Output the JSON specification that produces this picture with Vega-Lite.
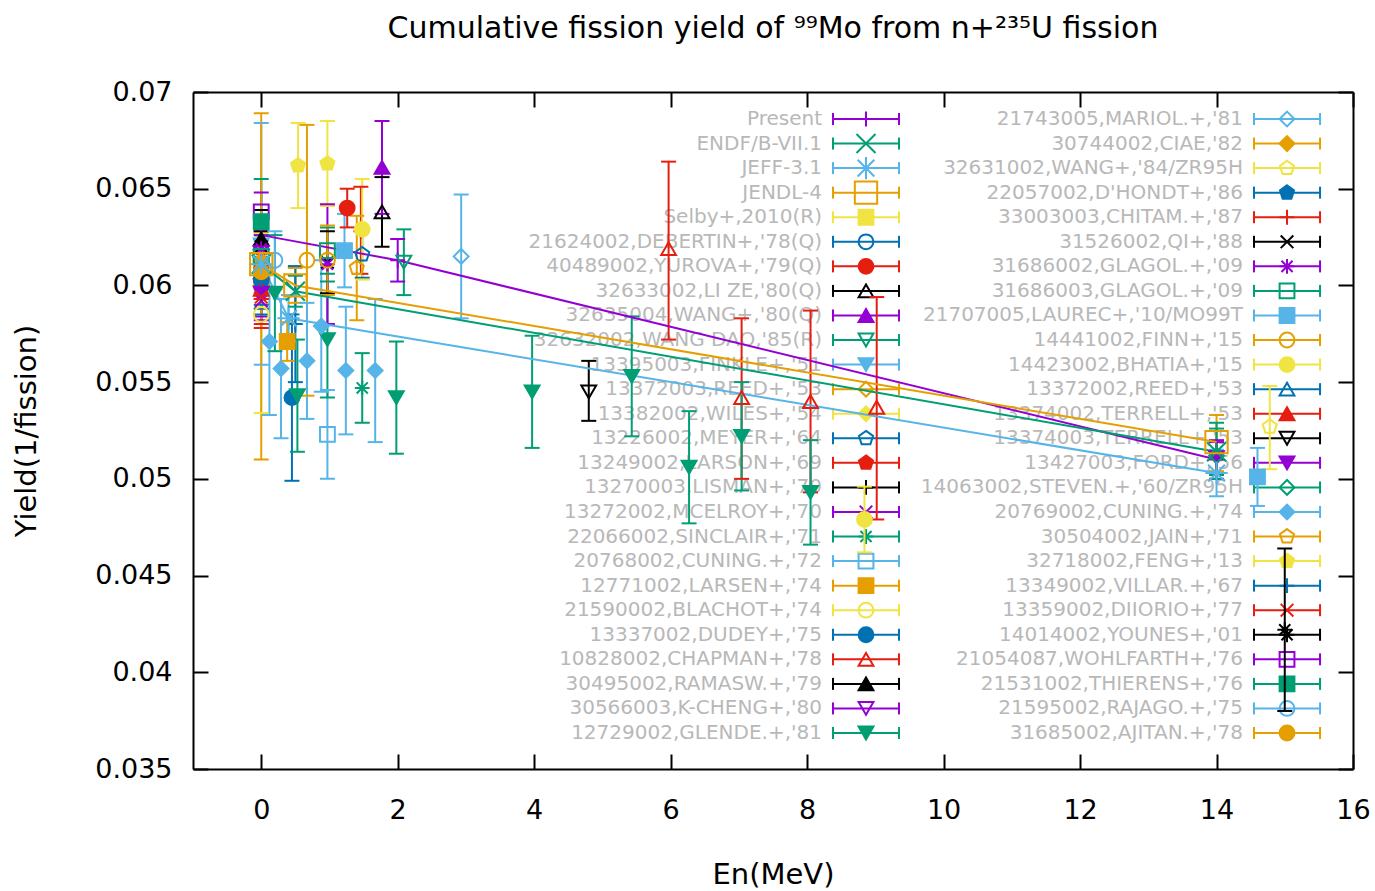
{
"$schema":"https://vega.github.io/schema/vega-lite/v6.json",
"width":1160,"height":677,
"autosize":{"type":"none"},
"padding":{"left":193,"top":92,"right":22,"bottom":122},
"background":"white",
"title":{"text":"Cumulative fission yield of ⁹⁹Mo from n+²³⁵U fission","fontSize":30,"font":"DejaVu Sans","fontWeight":"normal","color":"#000","anchor":"middle","frame":"group","offset":34},
"config":{"view":{"stroke":null},"font":"DejaVu Sans","axis":{"grid":false,"labelFont":"DejaVu Sans","titleFont":"DejaVu Sans","labelColor":"#000","titleColor":"#000","titleFontWeight":"normal"}},
"datasets":{
"leg1":[{"s":"Present"},{"s":"ENDF/B-VII.1"},{"s":"JEFF-3.1"},{"s":"JENDL-4"},{"s":"Selby+,2010(R)"},{"s":"21624002,DEBERTIN+,'78(Q)"},{"s":"40489002,YUROVA+,'79(Q)"},{"s":"32633002,LI ZE,'80(Q)"},{"s":"32635004,WANG+,'80(Q)"},{"s":"32632002,WANG DAO,'85(R)"},{"s":"13395003,FINKLE+,'51"},{"s":"13372003,REED+,'53"},{"s":"13382002,WILES+,'54"},{"s":"13226002,MEYER+,'64"},{"s":"13249002,LARSON+,'69"},{"s":"13270003,LISMAN+,'70"},{"s":"13272002,MCELROY+,'70"},{"s":"22066002,SINCLAIR+,'71"},{"s":"20768002,CUNING.+,'72"},{"s":"12771002,LARSEN+,'74"},{"s":"21590002,BLACHOT+,'74"},{"s":"13337002,DUDEY+,'75"},{"s":"10828002,CHAPMAN+,'78"},{"s":"30495002,RAMASW.+,'79"},{"s":"30566003,K-CHENG+,'80"},{"s":"12729002,GLENDE.+,'81"}],
"leg2":[{"s":"21743005,MARIOL.+,'81"},{"s":"30744002,CIAE,'82"},{"s":"32631002,WANG+,'84/ZR95H"},{"s":"22057002,D'HONDT+,'86"},{"s":"33003003,CHITAM.+,'87"},{"s":"31526002,QI+,'88"},{"s":"31686002,GLAGOL.+,'09"},{"s":"31686003,GLAGOL.+,'09"},{"s":"21707005,LAUREC+,'10/MO99T"},{"s":"14441002,FINN+,'15"},{"s":"14423002,BHATIA+,'15"},{"s":"13372002,REED+,'53"},{"s":"13374002,TERRELL+,'53"},{"s":"13374003,TERRELL+,'53"},{"s":"13427003,FORD+,'56"},{"s":"14063002,STEVEN.+,'60/ZR95H"},{"s":"20769002,CUNING.+,'74"},{"s":"30504002,JAIN+,'71"},{"s":"32718002,FENG+,'13"},{"s":"13349002,VILLAR.+,'67"},{"s":"13359002,DIIORIO+,'77"},{"s":"14014002,YOUNES+,'01"},{"s":"21054087,WOHLFARTH+,'76"},{"s":"21531002,THIERENS+,'76"},{"s":"21595002,RAJAGO.+,'75"},{"s":"31685002,AJITAN.+,'78"}],
"pts":[
{"s":"Present","x":0,"y":0.0626,"lo":0.0621,"hi":0.0631},
{"s":"Present","x":2.0,"y":0.0613,"lo":0.0602,"hi":0.0624},
{"s":"Present","x":14,"y":0.0510,"lo":0.0500,"hi":0.0520},
{"s":"ENDF/B-VII.1","x":0,"y":0.0611,"lo":0.0603,"hi":0.0619},
{"s":"ENDF/B-VII.1","x":0.5,"y":0.0597,"lo":0.0589,"hi":0.0605},
{"s":"ENDF/B-VII.1","x":14,"y":0.0514,"lo":0.0502,"hi":0.0526},
{"s":"JEFF-3.1","x":0,"y":0.0611,"lo":0.0599,"hi":0.0623},
{"s":"JEFF-3.1","x":0.4,"y":0.0583,"lo":0.0571,"hi":0.0595},
{"s":"JEFF-3.1","x":14,"y":0.0503,"lo":0.0491,"hi":0.0515},
{"s":"JENDL-4","x":0,"y":0.0611,"lo":0.0602,"hi":0.0620},
{"s":"JENDL-4","x":0.5,"y":0.0600,"lo":0.0591,"hi":0.0609},
{"s":"JENDL-4","x":14,"y":0.0519,"lo":0.0504,"hi":0.0533},
{"s":"Selby+,2010(R)","x":0,"y":0.0610,"lo":0.0600,"hi":0.0620},
{"s":"21624002,DEBERTIN+,'78(Q)","x":0,"y":0.0612,"lo":0.0600,"hi":0.0624},
{"s":"40489002,YUROVA+,'79(Q)","x":0,"y":0.0603,"lo":0.0593,"hi":0.0613},
{"s":"40489002,YUROVA+,'79(Q)","x":1.26,"y":0.0640,"lo":0.0630,"hi":0.0650},
{"s":"32633002,LI ZE,'80(Q)","x":1.77,"y":0.0638,"lo":0.0620,"hi":0.0656},
{"s":"32635004,WANG+,'80(Q)","x":0,"y":0.0622,"lo":0.0611,"hi":0.0633},
{"s":"32635004,WANG+,'80(Q)","x":1.77,"y":0.0661,"lo":0.0637,"hi":0.0685},
{"s":"32632002,WANG DAO,'85(R)","x":0,"y":0.0611,"lo":0.0601,"hi":0.0621},
{"s":"32632002,WANG DAO,'85(R)","x":2.09,"y":0.0612,"lo":0.0595,"hi":0.0629},
{"s":"13395003,FINKLE+,'51","x":0,"y":0.0621,"lo":0.0559,"hi":0.0684},
{"s":"13372003,REED+,'53","x":0,"y":0.0600,"lo":0.0588,"hi":0.0612},
{"s":"13382002,WILES+,'54","x":0,"y":0.0617,"lo":0.0607,"hi":0.0627},
{"s":"13226002,MEYER+,'64","x":0,"y":0.0598,"lo":0.0588,"hi":0.0608},
{"s":"13226002,MEYER+,'64","x":1.48,"y":0.0616,"lo":0.0604,"hi":0.0628},
{"s":"13249002,LARSON+,'69","x":0,"y":0.0608,"lo":0.0596,"hi":0.0620},
{"s":"13270003,LISMAN+,'70","x":0,"y":0.0612,"lo":0.0600,"hi":0.0624},
{"s":"13272002,MCELROY+,'70","x":0,"y":0.0592,"lo":0.0582,"hi":0.0602},
{"s":"22066002,SINCLAIR+,'71","x":1.48,"y":0.0547,"lo":0.0529,"hi":0.0565},
{"s":"20768002,CUNING.+,'72","x":0.97,"y":0.0523,"lo":0.0500,"hi":0.0546},
{"s":"12771002,LARSEN+,'74","x":0.38,"y":0.0571,"lo":0.0561,"hi":0.0581},
{"s":"21590002,BLACHOT+,'74","x":0,"y":0.0585,"lo":0.0534,"hi":0.0636},
{"s":"13337002,DUDEY+,'75","x":0.45,"y":0.0542,"lo":0.0499,"hi":0.0585},
{"s":"10828002,CHAPMAN+,'78","x":5.97,"y":0.0619,"lo":0.0572,"hi":0.0664},
{"s":"10828002,CHAPMAN+,'78","x":7.04,"y":0.0542,"lo":0.0500,"hi":0.0583},
{"s":"10828002,CHAPMAN+,'78","x":8.05,"y":0.0540,"lo":0.0493,"hi":0.0587},
{"s":"10828002,CHAPMAN+,'78","x":9.02,"y":0.0537,"lo":0.0479,"hi":0.0594},
{"s":"30495002,RAMASW.+,'79","x":0,"y":0.0624,"lo":0.0609,"hi":0.0639},
{"s":"30566003,K-CHENG+,'80","x":0,"y":0.0617,"lo":0.0602,"hi":0.0632},
{"s":"12729002,GLENDE.+,'81","x":0.2,"y":0.0596,"lo":0.0566,"hi":0.0626},
{"s":"12729002,GLENDE.+,'81","x":0.53,"y":0.0543,"lo":0.0514,"hi":0.0572},
{"s":"12729002,GLENDE.+,'81","x":0.97,"y":0.0572,"lo":0.0542,"hi":0.0602},
{"s":"12729002,GLENDE.+,'81","x":1.98,"y":0.0542,"lo":0.0513,"hi":0.0571},
{"s":"12729002,GLENDE.+,'81","x":3.97,"y":0.0545,"lo":0.0516,"hi":0.0574},
{"s":"12729002,GLENDE.+,'81","x":5.43,"y":0.0553,"lo":0.0522,"hi":0.0584},
{"s":"12729002,GLENDE.+,'81","x":6.27,"y":0.0506,"lo":0.0477,"hi":0.0535},
{"s":"12729002,GLENDE.+,'81","x":7.04,"y":0.0522,"lo":0.0494,"hi":0.0550},
{"s":"12729002,GLENDE.+,'81","x":8.05,"y":0.0493,"lo":0.0466,"hi":0.0520},
{"s":"21743005,MARIOL.+,'81","x":2.93,"y":0.0615,"lo":0.0583,"hi":0.0647},
{"s":"30744002,CIAE,'82","x":0,"y":0.0613,"lo":0.0598,"hi":0.0628},
{"s":"32631002,WANG+,'84/ZR95H","x":14.78,"y":0.0527,"lo":0.0505,"hi":0.0548},
{"s":"22057002,D'HONDT+,'86","x":0,"y":0.0601,"lo":0.0590,"hi":0.0612},
{"s":"33003003,CHITAM.+,'87","x":0,"y":0.0605,"lo":0.0593,"hi":0.0617},
{"s":"33003003,CHITAM.+,'87","x":1.46,"y":0.0628,"lo":0.0606,"hi":0.0651},
{"s":"31526002,QI+,'88","x":0,"y":0.0620,"lo":0.0612,"hi":0.0628},
{"s":"31526002,QI+,'88","x":0.97,"y":0.0612,"lo":0.0596,"hi":0.0628},
{"s":"31686002,GLAGOL.+,'09","x":0,"y":0.0619,"lo":0.0609,"hi":0.0629},
{"s":"31686002,GLAGOL.+,'09","x":0.97,"y":0.0611,"lo":0.0580,"hi":0.0642},
{"s":"31686003,GLAGOL.+,'09","x":0,"y":0.0615,"lo":0.0604,"hi":0.0626},
{"s":"31686003,GLAGOL.+,'09","x":0.97,"y":0.0618,"lo":0.0606,"hi":0.0630},
{"s":"21707005,LAUREC+,'10/MO99T","x":1.22,"y":0.0618,"lo":0.0599,"hi":0.0637},
{"s":"21707005,LAUREC+,'10/MO99T","x":14.6,"y":0.0501,"lo":0.0486,"hi":0.0516},
{"s":"14441002,FINN+,'15","x":0.67,"y":0.0613,"lo":0.0543,"hi":0.0683},
{"s":"14441002,FINN+,'15","x":0.97,"y":0.0613,"lo":0.0595,"hi":0.0631},
{"s":"14423002,BHATIA+,'15","x":1.48,"y":0.0629,"lo":0.0603,"hi":0.0655},
{"s":"14423002,BHATIA+,'15","x":8.84,"y":0.0479,"lo":0.0462,"hi":0.0496},
{"s":"13372002,REED+,'53","x":0,"y":0.0607,"lo":0.0595,"hi":0.0619},
{"s":"13374002,TERRELL+,'53","x":0,"y":0.0598,"lo":0.0578,"hi":0.0618},
{"s":"13374003,TERRELL+,'53","x":4.80,"y":0.0545,"lo":0.0530,"hi":0.0561},
{"s":"13427003,FORD+,'56","x":0,"y":0.0596,"lo":0.0584,"hi":0.0608},
{"s":"13427003,FORD+,'56","x":14,"y":0.0511,"lo":0.0503,"hi":0.0519},
{"s":"14063002,STEVEN.+,'60/ZR95H","x":14,"y":0.0512,"lo":0.0500,"hi":0.0529},
{"s":"20769002,CUNING.+,'74","x":0.12,"y":0.0571,"lo":0.0533,"hi":0.0609},
{"s":"20769002,CUNING.+,'74","x":0.29,"y":0.0557,"lo":0.0521,"hi":0.0593},
{"s":"20769002,CUNING.+,'74","x":0.67,"y":0.0561,"lo":0.0531,"hi":0.0591},
{"s":"20769002,CUNING.+,'74","x":0.88,"y":0.0579,"lo":0.0545,"hi":0.0613},
{"s":"20769002,CUNING.+,'74","x":1.24,"y":0.0556,"lo":0.0523,"hi":0.0589},
{"s":"20769002,CUNING.+,'74","x":1.67,"y":0.0556,"lo":0.0519,"hi":0.0593},
{"s":"30504002,JAIN+,'71","x":1.40,"y":0.0609,"lo":0.0582,"hi":0.0636},
{"s":"32718002,FENG+,'13","x":0.54,"y":0.0662,"lo":0.0640,"hi":0.0684},
{"s":"32718002,FENG+,'13","x":0.97,"y":0.0663,"lo":0.0641,"hi":0.0685},
{"s":"13349002,VILLAR.+,'67","x":0,"y":0.0603,"lo":0.0585,"hi":0.0621},
{"s":"13349002,VILLAR.+,'67","x":0.5,"y":0.0580,"lo":0.0550,"hi":0.0610},
{"s":"13359002,DIIORIO+,'77","x":0,"y":0.0594,"lo":0.0580,"hi":0.0608},
{"s":"14014002,YOUNES+,'01","x":15.0,"y":0.0422,"lo":0.0380,"hi":0.0464},
{"s":"21054087,WOHLFARTH+,'76","x":0,"y":0.0638,"lo":0.0628,"hi":0.0648},
{"s":"21531002,THIERENS+,'76","x":0,"y":0.0633,"lo":0.0611,"hi":0.0655},
{"s":"21595002,RAJAGO.+,'75","x":0.2,"y":0.0613,"lo":0.0598,"hi":0.0628},
{"s":"31685002,AJITAN.+,'78","x":0,"y":0.0607,"lo":0.0510,"hi":0.0689}
]},
"resolve":{"scale":{"y":"independent"},"axis":{"x":"independent","y":"independent"}},
"layer":[
{"data":{"name":"leg1"},
 "encoding":{"y":{"field":"s","type":"nominal","scale":{"type":"point","domain":["Present","ENDF/B-VII.1","JEFF-3.1","JENDL-4","Selby+,2010(R)","21624002,DEBERTIN+,'78(Q)","40489002,YUROVA+,'79(Q)","32633002,LI ZE,'80(Q)","32635004,WANG+,'80(Q)","32632002,WANG DAO,'85(R)","13395003,FINKLE+,'51","13372003,REED+,'53","13382002,WILES+,'54","13226002,MEYER+,'64","13249002,LARSON+,'69","13270003,LISMAN+,'70","13272002,MCELROY+,'70","22066002,SINCLAIR+,'71","20768002,CUNING.+,'72","12771002,LARSEN+,'74","21590002,BLACHOT+,'74","13337002,DUDEY+,'75","10828002,CHAPMAN+,'78","30495002,RAMASW.+,'79","30566003,K-CHENG+,'80","12729002,GLENDE.+,'81"],"range":[27,641],"padding":0,"round":false},"axis":null},
  "color":{"field":"s","type":"nominal","legend":null}},
 "layer":[
  {"mark":{"type":"text","align":"right","baseline":"middle","dx":-44,"fontSize":20,"font":"DejaVu Sans"},
   "encoding":{"x":{"datum":8.863,"type":"quantitative","scale":{"domain":[-1,16],"nice":false,"zero":false},"axis":null},"text":{"field":"s"},"color":{"value":"#b8b8b8"}}},
  {"mark":{"type":"rule","strokeWidth":2},"encoding":{"x":{"datum":8.379,"type":"quantitative","axis":null},"x2":{"datum":9.347}}},
  {"mark":{"type":"tick","orient":"vertical","thickness":2,"size":12,"opacity":1},"encoding":{"x":{"datum":8.379,"type":"quantitative","axis":null}}},
  {"mark":{"type":"tick","orient":"vertical","thickness":2,"size":12,"opacity":1},"encoding":{"x":{"datum":9.347,"type":"quantitative","axis":null}}},
  {"encoding":{"x":{"datum":8.863,"type":"quantitative","axis":null},"shape":{"field":"s","type":"nominal","legend":null},"fill":{"field":"s","type":"nominal","legend":null}},
   "layer":[
    {"transform":[{"filter":{"not":{"field":"s","oneOf":["ENDF/B-VII.1","JEFF-3.1","JENDL-4"]}}}],"mark":{"type":"point","filled":false,"strokeWidth":2,"size":220,"opacity":1}},
    {"transform":[{"filter":{"field":"s","oneOf":["ENDF/B-VII.1","JEFF-3.1","JENDL-4"]}}],"mark":{"type":"point","filled":false,"strokeWidth":2,"size":500,"opacity":1}}
   ]}
 ]},
{"data":{"name":"leg2"},
 "encoding":{"y":{"field":"s","type":"nominal","scale":{"type":"point","domain":["21743005,MARIOL.+,'81","30744002,CIAE,'82","32631002,WANG+,'84/ZR95H","22057002,D'HONDT+,'86","33003003,CHITAM.+,'87","31526002,QI+,'88","31686002,GLAGOL.+,'09","31686003,GLAGOL.+,'09","21707005,LAUREC+,'10/MO99T","14441002,FINN+,'15","14423002,BHATIA+,'15","13372002,REED+,'53","13374002,TERRELL+,'53","13374003,TERRELL+,'53","13427003,FORD+,'56","14063002,STEVEN.+,'60/ZR95H","20769002,CUNING.+,'74","30504002,JAIN+,'71","32718002,FENG+,'13","13349002,VILLAR.+,'67","13359002,DIIORIO+,'77","14014002,YOUNES+,'01","21054087,WOHLFARTH+,'76","21531002,THIERENS+,'76","21595002,RAJAGO.+,'75","31685002,AJITAN.+,'78"],"range":[27,641],"padding":0,"round":false},"axis":null},
  "color":{"field":"s","type":"nominal","legend":null}},
 "layer":[
  {"mark":{"type":"text","align":"right","baseline":"middle","dx":-44,"fontSize":20,"font":"DejaVu Sans"},
   "encoding":{"x":{"datum":15.033,"type":"quantitative","scale":{"domain":[-1,16],"nice":false,"zero":false},"axis":null},"text":{"field":"s"},"color":{"value":"#b8b8b8"}}},
  {"mark":{"type":"rule","strokeWidth":2},"encoding":{"x":{"datum":14.549,"type":"quantitative","axis":null},"x2":{"datum":15.517}}},
  {"mark":{"type":"tick","orient":"vertical","thickness":2,"size":12,"opacity":1},"encoding":{"x":{"datum":14.549,"type":"quantitative","axis":null}}},
  {"mark":{"type":"tick","orient":"vertical","thickness":2,"size":12,"opacity":1},"encoding":{"x":{"datum":15.517,"type":"quantitative","axis":null}}},
  {"mark":{"type":"point","filled":false,"strokeWidth":2,"size":220,"opacity":1},
   "encoding":{"x":{"datum":15.033,"type":"quantitative","axis":null},"shape":{"field":"s","type":"nominal","legend":null},"fill":{"field":"s","type":"nominal","legend":null}}}
 ]},
{"data":{"name":"pts"},
 "resolve":{"axis":{"x":"independent","y":"independent"}},
 "encoding":{"color":{"field":"s","type":"nominal","legend":null,"scale":{"domain":["Present","ENDF/B-VII.1","JEFF-3.1","JENDL-4","Selby+,2010(R)","21624002,DEBERTIN+,'78(Q)","40489002,YUROVA+,'79(Q)","32633002,LI ZE,'80(Q)","32635004,WANG+,'80(Q)","32632002,WANG DAO,'85(R)","13395003,FINKLE+,'51","13372003,REED+,'53","13382002,WILES+,'54","13226002,MEYER+,'64","13249002,LARSON+,'69","13270003,LISMAN+,'70","13272002,MCELROY+,'70","22066002,SINCLAIR+,'71","20768002,CUNING.+,'72","12771002,LARSEN+,'74","21590002,BLACHOT+,'74","13337002,DUDEY+,'75","10828002,CHAPMAN+,'78","30495002,RAMASW.+,'79","30566003,K-CHENG+,'80","12729002,GLENDE.+,'81","21743005,MARIOL.+,'81","30744002,CIAE,'82","32631002,WANG+,'84/ZR95H","22057002,D'HONDT+,'86","33003003,CHITAM.+,'87","31526002,QI+,'88","31686002,GLAGOL.+,'09","31686003,GLAGOL.+,'09","21707005,LAUREC+,'10/MO99T","14441002,FINN+,'15","14423002,BHATIA+,'15","13372002,REED+,'53","13374002,TERRELL+,'53","13374003,TERRELL+,'53","13427003,FORD+,'56","14063002,STEVEN.+,'60/ZR95H","20769002,CUNING.+,'74","30504002,JAIN+,'71","32718002,FENG+,'13","13349002,VILLAR.+,'67","13359002,DIIORIO+,'77","14014002,YOUNES+,'01","21054087,WOHLFARTH+,'76","21531002,THIERENS+,'76","21595002,RAJAGO.+,'75","31685002,AJITAN.+,'78"],"range":["#9400d3","#009e73","#56b4e9","#e69f00","#f0e442","#0072b2","#e51e10","#000000"]}}},
 "layer":[
  {"mark":{"type":"rule","strokeWidth":2},
   "encoding":{"x":{"field":"x","type":"quantitative","scale":{"domain":[-1,16],"nice":false,"zero":false},
      "axis":{"orient":"bottom","values":[0,2,4,6,8,10,12,14,16],"format":"d","title":"En(MeV)","titleFontSize":29,"titlePadding":37,"labelFontSize":27,"labelPadding":43,"labelFlush":false,"labelOverlap":false,"tickSize":-15,"tickWidth":2,"tickColor":"#000","domainColor":"#000","domainWidth":2}},
    "y":{"field":"lo","type":"quantitative","scale":{"domain":[0.035,0.07],"nice":false,"zero":false},
      "axis":{"orient":"left","values":[0.035,0.04,0.045,0.05,0.055,0.06,0.065,0.07],"format":".3~f","title":"Yield(1/fission)","titleFontSize":29,"titlePadding":53,"labelFontSize":27,"labelPadding":36,"labelFlush":false,"labelOverlap":false,"tickSize":-15,"tickWidth":2,"tickColor":"#000","domainColor":"#000","domainWidth":2}},
    "y2":{"field":"hi"}}},
  {"mark":{"type":"tick","orient":"horizontal","thickness":2,"size":15,"opacity":1},
   "encoding":{"x":{"field":"x","type":"quantitative","scale":{"domain":[-1,16],"nice":false,"zero":false},
      "axis":{"orient":"top","values":[0,2,4,6,8,10,12,14,16],"labels":false,"title":null,"tickSize":-15,"tickWidth":2,"tickColor":"#000","domainColor":"#000","domainWidth":2}},
    "y":{"field":"lo","type":"quantitative","scale":{"domain":[0.035,0.07],"nice":false,"zero":false},
      "axis":{"orient":"right","values":[0.035,0.04,0.045,0.05,0.055,0.06,0.065,0.07],"labels":false,"title":null,"tickSize":-15,"tickWidth":2,"tickColor":"#000","domainColor":"#000","domainWidth":2}}}},
  {"mark":{"type":"tick","orient":"horizontal","thickness":2,"size":15,"opacity":1},
   "encoding":{"x":{"field":"x","type":"quantitative","scale":{"domain":[-1,16],"nice":false,"zero":false},"axis":null},
    "y":{"field":"hi","type":"quantitative","scale":{"domain":[0.035,0.07],"nice":false,"zero":false},"axis":null}}},
  {"transform":[{"filter":{"field":"s","oneOf":["Present","ENDF/B-VII.1","JEFF-3.1","JENDL-4"]}}],
   "mark":{"type":"line","strokeWidth":2},
   "encoding":{"x":{"field":"x","type":"quantitative","scale":{"domain":[-1,16],"nice":false,"zero":false},"axis":null},
    "y":{"field":"y","type":"quantitative","scale":{"domain":[0.035,0.07],"nice":false,"zero":false},"axis":null}}},
  {"encoding":{"x":{"field":"x","type":"quantitative","scale":{"domain":[-1,16],"nice":false,"zero":false},"axis":null},
    "y":{"field":"y","type":"quantitative","scale":{"domain":[0.035,0.07],"nice":false,"zero":false},"axis":null},
    "shape":{"field":"s","type":"nominal","legend":null,"scale":{"domain":["Present","ENDF/B-VII.1","JEFF-3.1","JENDL-4","Selby+,2010(R)","21624002,DEBERTIN+,'78(Q)","40489002,YUROVA+,'79(Q)","32633002,LI ZE,'80(Q)","32635004,WANG+,'80(Q)","32632002,WANG DAO,'85(R)","13395003,FINKLE+,'51","13372003,REED+,'53","13382002,WILES+,'54","13226002,MEYER+,'64","13249002,LARSON+,'69","13270003,LISMAN+,'70","13272002,MCELROY+,'70","22066002,SINCLAIR+,'71","20768002,CUNING.+,'72","12771002,LARSEN+,'74","21590002,BLACHOT+,'74","13337002,DUDEY+,'75","10828002,CHAPMAN+,'78","30495002,RAMASW.+,'79","30566003,K-CHENG+,'80","12729002,GLENDE.+,'81","21743005,MARIOL.+,'81","30744002,CIAE,'82","32631002,WANG+,'84/ZR95H","22057002,D'HONDT+,'86","33003003,CHITAM.+,'87","31526002,QI+,'88","31686002,GLAGOL.+,'09","31686003,GLAGOL.+,'09","21707005,LAUREC+,'10/MO99T","14441002,FINN+,'15","14423002,BHATIA+,'15","13372002,REED+,'53","13374002,TERRELL+,'53","13374003,TERRELL+,'53","13427003,FORD+,'56","14063002,STEVEN.+,'60/ZR95H","20769002,CUNING.+,'74","30504002,JAIN+,'71","32718002,FENG+,'13","13349002,VILLAR.+,'67","13359002,DIIORIO+,'77","14014002,YOUNES+,'01","21054087,WOHLFARTH+,'76","21531002,THIERENS+,'76","21595002,RAJAGO.+,'75","31685002,AJITAN.+,'78"],
      "range":["M-1,0H1M0,-1V1","M-0.85,-0.85L0.85,0.85M-0.85,0.85L0.85,-0.85","M-1,0H1M0,-1V1M-0.75,-0.75L0.75,0.75M-0.75,0.75L0.75,-0.75","square","square","circle","circle","triangle-up","triangle-up","triangle-down","triangle-down","diamond","diamond","M0,-1L0.951,-0.309L0.588,0.809L-0.588,0.809L-0.951,-0.309Z","M0,-1L0.951,-0.309L0.588,0.809L-0.588,0.809L-0.951,-0.309Z"]}},
    "fill":{"field":"s","type":"nominal","legend":null,"scale":{"domain":["Present","ENDF/B-VII.1","JEFF-3.1","JENDL-4","Selby+,2010(R)","21624002,DEBERTIN+,'78(Q)","40489002,YUROVA+,'79(Q)","32633002,LI ZE,'80(Q)","32635004,WANG+,'80(Q)","32632002,WANG DAO,'85(R)","13395003,FINKLE+,'51","13372003,REED+,'53","13382002,WILES+,'54","13226002,MEYER+,'64","13249002,LARSON+,'69","13270003,LISMAN+,'70","13272002,MCELROY+,'70","22066002,SINCLAIR+,'71","20768002,CUNING.+,'72","12771002,LARSEN+,'74","21590002,BLACHOT+,'74","13337002,DUDEY+,'75","10828002,CHAPMAN+,'78","30495002,RAMASW.+,'79","30566003,K-CHENG+,'80","12729002,GLENDE.+,'81","21743005,MARIOL.+,'81","30744002,CIAE,'82","32631002,WANG+,'84/ZR95H","22057002,D'HONDT+,'86","33003003,CHITAM.+,'87","31526002,QI+,'88","31686002,GLAGOL.+,'09","31686003,GLAGOL.+,'09","21707005,LAUREC+,'10/MO99T","14441002,FINN+,'15","14423002,BHATIA+,'15","13372002,REED+,'53","13374002,TERRELL+,'53","13374003,TERRELL+,'53","13427003,FORD+,'56","14063002,STEVEN.+,'60/ZR95H","20769002,CUNING.+,'74","30504002,JAIN+,'71","32718002,FENG+,'13","13349002,VILLAR.+,'67","13359002,DIIORIO+,'77","14014002,YOUNES+,'01","21054087,WOHLFARTH+,'76","21531002,THIERENS+,'76","21595002,RAJAGO.+,'75","31685002,AJITAN.+,'78"],
      "range":["transparent","transparent","transparent","transparent","#f0e442","transparent","#e51e10","transparent","#9400d3","transparent","#56b4e9","transparent","#f0e442","transparent","#e51e10","transparent","transparent","transparent","transparent","#e69f00","transparent","#0072b2","transparent","#000000","transparent","#009e73","transparent","#e69f00","transparent","#0072b2","transparent","transparent","transparent","transparent","#56b4e9","transparent","#f0e442","transparent","#e51e10","transparent","#9400d3","transparent","#56b4e9","transparent","#f0e442","transparent","transparent","transparent","transparent","#009e73","transparent","#e69f00"]}}},
   "layer":[
    {"transform":[{"filter":{"not":{"field":"s","oneOf":["ENDF/B-VII.1","JEFF-3.1","JENDL-4"]}}}],"mark":{"type":"point","filled":false,"strokeWidth":2,"size":220,"opacity":1}},
    {"transform":[{"filter":{"field":"s","oneOf":["ENDF/B-VII.1","JEFF-3.1","JENDL-4"]}}],"mark":{"type":"point","filled":false,"strokeWidth":2,"size":500,"opacity":1}}
   ]}
 ]}
]
}
